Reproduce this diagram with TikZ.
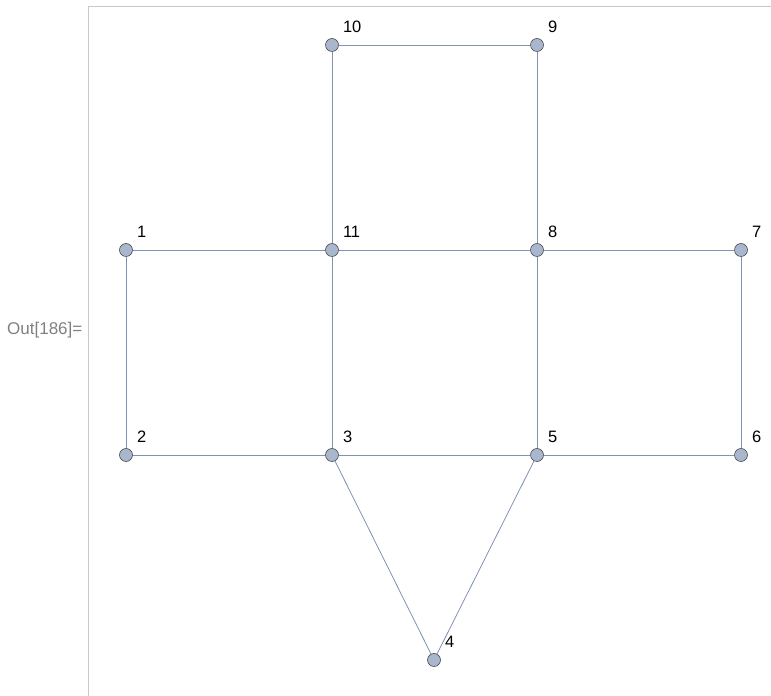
\documentclass[tikz,border=0pt]{standalone}
\usepackage{fontspec}
\setmainfont{Liberation Sans}
\definecolor{edgeblue}{RGB}{128,147,178}
\definecolor{vertexfill}{RGB}{168,183,206}
\definecolor{framegray}{RGB}{200,200,200}
\begin{document}
\begin{tikzpicture}[
        x=1pt, y=1pt,
        % Knoten und Beschriftungen
        vertex/.style={circle, draw=black!70, fill=vertexfill, line width=0.6pt, minimum size=13pt, inner sep=0pt},
        lbl/.style={text width=20pt, align=left, xshift=21pt, yshift=18.5pt, inner sep=0pt, font=\fontsize{16.5}{20}\selectfont},
        edge/.style={draw=edgeblue, line width=0.8pt},
        frame/.style={draw=framegray, line width=1pt}
    ]
    \useasboundingbox (0,0) rectangle (771,696);
    % Rahmen und Ausgabezeile
    \draw[frame] (88,0) -- (88,689) -- (771,689);
    \node[text=black!50, font=\fontsize{17}{20}\selectfont, anchor=west, inner sep=0pt] (out) at (7,366) {Out[186]=};

    \node[vertex, label={[lbl]center:1}] (v1) at (126,446) {};
    \node[vertex, label={[lbl]center:11}] (v11) at (332,446) {};
    \node[vertex, label={[lbl]center:8}] (v8) at (537,446) {};
    \node[vertex, label={[lbl]center:7}] (v7) at (741,446) {};
    \node[vertex, label={[lbl]center:2}] (v2) at (126,241) {};
    \node[vertex, label={[lbl]center:3}] (v3) at (332,241) {};
    \node[vertex, label={[lbl]center:5}] (v5) at (537,241) {};
    \node[vertex, label={[lbl]center:6}] (v6) at (741,241) {};
    \node[vertex, label={[lbl]center:10}] (v10) at (332,651) {};
    \node[vertex, label={[lbl]center:9}] (v9) at (537,651) {};
    \node[vertex, label={[lbl]center:4}] (v4) at (434,36) {};

    % Kanten
    \foreach \a/\b in {v10/v9, v10/v11, v9/v8, v1/v11, v11/v8, v8/v7, v1/v2, v11/v3,
                       v8/v5, v7/v6, v2/v3, v3/v5, v5/v6, v3/v4, v5/v4}
        \draw[edge] (\a) -- (\b);
\end{tikzpicture}
\end{document}
